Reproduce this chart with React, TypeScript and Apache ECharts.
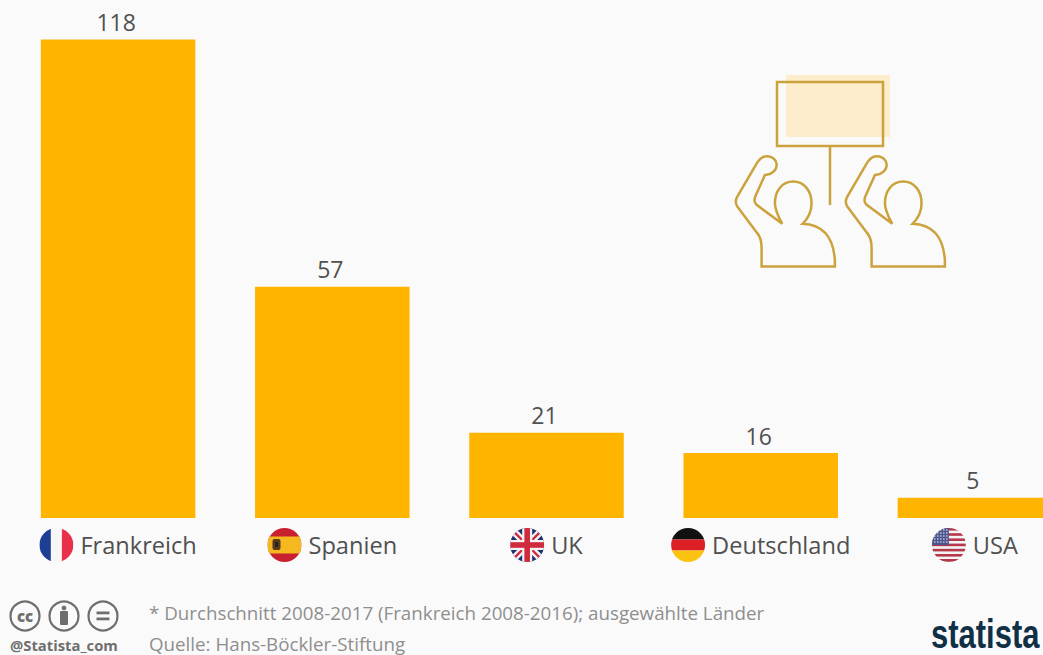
import React, { useEffect, useRef } from "react";
import * as echarts from "echarts";

const categories = ["Frankreich", "Spanien", "UK", "Deutschland", "USA"];
const values = [118, 57, 21, 16, 5];
const flagKeys = ["fr", "es", "uk", "de", "us"];
const footnote = "* Durchschnitt 2008-2017 (Frankreich 2008-2016); ausgewählte Länder";
const source = "Quelle: Hans-Böckler-Stiftung";

const FONT = '"Open Sans", sans-serif';
const INK = "#505050";
const GOLD = "#cba23c";

const wrap = (body: string) =>
  "data:image/svg+xml;charset=utf-8," +
  encodeURIComponent(
    `<svg xmlns="http://www.w3.org/2000/svg" width="136" height="136" viewBox="0 0 34 34"><defs><clipPath id="c"><circle cx="17" cy="17" r="17"/></clipPath></defs><g clip-path="url(#c)">${body}</g></svg>`
  );

const usStripes = [0, 1, 2, 3, 4, 5, 6]
  .map((i) => `<rect x="0" y="${i * 5.2}" width="34" height="2.6" fill="#b5394a"/>`)
  .join("");
const usStars = [2, 5, 8, 11, 14]
  .map((y) => [3, 6, 9, 12, 15].map((x) => `<circle cx="${x}" cy="${y}" r="0.7" fill="#fff"/>`).join(""))
  .join("");

const flags: Record<string, string> = {
  fr: wrap(`<rect width="11.5" height="34" fill="#1c3f94"/><rect x="11.5" width="11" height="34" fill="#f7f7f7"/><rect x="22.5" width="11.5" height="34" fill="#e8304a"/>`),
  es: wrap(`<rect width="34" height="34" fill="#c8202f"/><rect y="8.5" width="34" height="17" fill="#f5b81f"/><rect x="5" y="11" width="8" height="11" rx="2" fill="#5a3a1e"/><rect x="7.5" y="14" width="3" height="5" fill="#222"/>`),
  uk: wrap(`<rect width="34" height="34" fill="#1d2f6f"/><path d="M0 0L34 34M34 0L0 34" stroke="#f3f3f3" stroke-width="7"/><path d="M0 0L34 34M34 0L0 34" stroke="#d02a3f" stroke-width="2.4"/><rect x="12" width="10" height="34" fill="#f3f3f3"/><rect y="12" width="34" height="10" fill="#f3f3f3"/><rect x="14.2" width="5.6" height="34" fill="#d02a3f"/><rect y="14.2" width="34" height="5.6" fill="#d02a3f"/>`),
  de: wrap(`<rect width="34" height="11.5" fill="#111"/><rect y="11.5" width="34" height="11" fill="#dd1f26"/><rect y="22.5" width="34" height="11.5" fill="#fbc20f"/>`),
  us: wrap(`<rect width="34" height="34" fill="#f4f4f4"/>${usStripes}<rect width="34" height="2" y="31" fill="#b5394a"/><rect width="17" height="17" fill="#4a5590"/>${usStars}`),
};

const PERSON =
  "M185 620 L405 620 L405 600 C400 530 370 495 308 492 C325 475 335 455 335 430 C335 390 310 365 280 365 C245 365 225 395 225 430 C225 450 235 470 247 492 L170 435 C162 428 162 420 166 410 L195 345 C215 345 232 330 230 312 C226 292 205 285 188 292 C178 298 172 306 166 318 L112 410 C106 420 106 430 112 440 L172 520 C182 532 185 545 185 565 Z";
echarts.graphic.registerShape("protestPerson", echarts.graphic.extendPath(PERSON, {}) as any);

export default function App() {
  const ref = useRef<HTMLDivElement>(null);
  useEffect(() => {
    const chart = echarts.init(ref.current!, null, { renderer: "svg" });
    const rich: Record<string, any> = {
      g: { width: 7, height: 34 },
      t: { fontFamily: FONT, fontSize: 23.6, color: INK, height: 34, lineHeight: 34 },
    };
    flagKeys.forEach((k) => {
      rich[k] = { width: 34, height: 34, backgroundColor: { image: flags[k] } };
    });
    const grey = "#6e6e6e";
    const iconStroke = { stroke: grey, lineWidth: 2.2, fill: "none" };
    chart.setOption({
      animation: false,
      backgroundColor: "#fafafa",
      grid: { left: 11, width: 1071, top: 39.5, height: 478.5, outerBoundsMode: "none" },
      xAxis: {
        type: "category",
        data: categories,
        axisLine: { show: false },
        axisTick: { show: false },
        axisLabel: {
          interval: 0,
          margin: 10,
          formatter: (v: string) => `{${flagKeys[categories.indexOf(v)]}|}{g|}{t|${v}}`,
          rich,
        },
      },
      yAxis: { type: "value", min: 0, max: 118, show: false, splitLine: { show: false } },
      series: [
        {
          type: "bar",
          data: values,
          barWidth: 154.5,
          itemStyle: { color: "#ffb400" },
          label: {
            show: true,
            position: "top",
            distance: 6,
            offset: [-2, 0],
            fontFamily: FONT,
            fontSize: 23,
            color: INK,
          },
        },
      ],
      graphic: [
        { type: "rect", shape: { x: 786, y: 75, width: 104, height: 62 }, style: { fill: "#fdedcd" } },
        { type: "rect", shape: { x: 777, y: 82, width: 106, height: 64 }, style: { fill: "none", stroke: GOLD, lineWidth: 2.5 } },
        { type: "line", shape: { x1: 830, y1: 146, x2: 830, y2: 205 }, style: { stroke: GOLD, lineWidth: 2.5 } },
        { type: "protestPerson", x: 700, y: 60, scaleX: 1 / 3, scaleY: 1 / 3, style: { fill: "none", stroke: GOLD, lineWidth: 7.5 } },
        { type: "protestPerson", x: 810, y: 60, scaleX: 1 / 3, scaleY: 1 / 3, style: { fill: "none", stroke: GOLD, lineWidth: 7.5 } },

        { type: "circle", shape: { cx: 25, cy: 616, r: 14.5 }, style: iconStroke },
        { type: "text", x: 25, y: 616, style: { text: "cc", fill: grey, fontFamily: FONT, fontWeight: 800, fontSize: 15, align: "center", verticalAlign: "middle" } },
        { type: "circle", shape: { cx: 64, cy: 616, r: 14.5 }, style: iconStroke },
        { type: "circle", shape: { cx: 64, cy: 608, r: 2.4 }, style: { fill: grey } },
        { type: "rect", shape: { x: 60, y: 611, width: 8, height: 14, r: 1 }, style: { fill: grey } },
        { type: "circle", shape: { cx: 103, cy: 616, r: 14.5 }, style: iconStroke },
        { type: "rect", shape: { x: 96.5, y: 611.5, width: 13, height: 2.8 }, style: { fill: grey } },
        { type: "rect", shape: { x: 96.5, y: 617.5, width: 13, height: 2.8 }, style: { fill: grey } },
        { type: "text", x: 10, y: 645, style: { text: "@Statista_com", fill: grey, fontFamily: FONT, fontWeight: 700, fontSize: 14.8, verticalAlign: "middle" } },

        { type: "text", x: 149, y: 612, style: { text: footnote, fill: "#8e8e8e", fontFamily: FONT, fontSize: 18.75, verticalAlign: "middle" } },
        { type: "text", x: 149, y: 643, style: { text: source, fill: "#8e8e8e", fontFamily: FONT, fontSize: 18.75, verticalAlign: "middle" } },
        { type: "text", x: 931, y: 635, scaleY: 1.29, style: { text: "statista", fill: "#0f3045", fontFamily: '"Liberation Sans", sans-serif', fontWeight: 700, fontSize: 31, verticalAlign: "middle" } },
      ],
    });
    return () => chart.dispose();
  }, []);
  return <div ref={ref} style={{ position: "absolute", left: 0, top: 0, width: 1043, height: 655 }} />;
}
